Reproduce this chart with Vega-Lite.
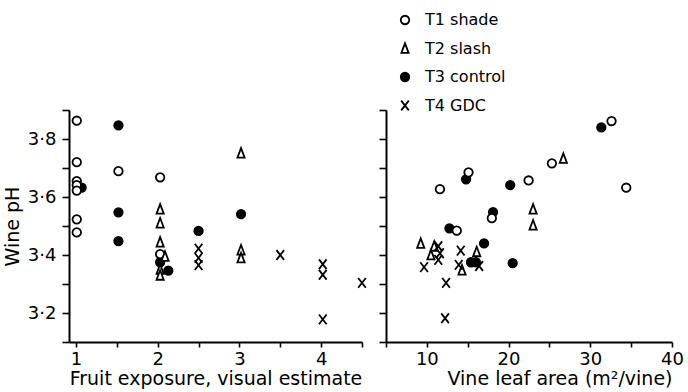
{
  "$schema": "https://vega.github.io/schema/vega-lite/v6.json",
  "autosize": {"type": "none"},
  "padding": {"left": 69, "top": 110, "right": 619, "bottom": 282},
  "bounds": "flush",
  "spacing": 24,
  "config": {
    "view": {"stroke": null},
    "font": "DejaVu Sans",
    "axis": {
      "grid": false,
      "domainColor": "black",
      "domainWidth": 2,
      "tickColor": "black",
      "tickWidth": 1.6,
      "labelColor": "black",
      "titleColor": "black",
      "labelFontSize": 18,
      "titleFontSize": 19,
      "titleFontWeight": "normal",
      "labelFlush": false,
      "labelOverlap": false
    },
    "legend": {
      "labelFontSize": 16,
      "labelColor": "black",
      "symbolStrokeColor": "black",
      "symbolStrokeWidth": 1.8,
      "symbolSize": 72
    }
  },
  "datasets": {
    "exposure": [
      {"x": 1.07, "ph": 3.632, "t": "T3 control"},
      {"x": 1.52, "ph": 3.847, "t": "T3 control"},
      {"x": 1.52, "ph": 3.547, "t": "T3 control"},
      {"x": 1.52, "ph": 3.448, "t": "T3 control"},
      {"x": 2.03, "ph": 3.375, "t": "T3 control"},
      {"x": 2.13, "ph": 3.346, "t": "T3 control"},
      {"x": 2.5, "ph": 3.483, "t": "T3 control"},
      {"x": 3.02, "ph": 3.541, "t": "T3 control"},
      {"x": 1.01, "ph": 3.863, "t": "T1 shade"},
      {"x": 1.01, "ph": 3.72, "t": "T1 shade"},
      {"x": 1.01, "ph": 3.655, "t": "T1 shade"},
      {"x": 1.01, "ph": 3.641, "t": "T1 shade"},
      {"x": 1.01, "ph": 3.622, "t": "T1 shade"},
      {"x": 1.01, "ph": 3.523, "t": "T1 shade"},
      {"x": 1.01, "ph": 3.478, "t": "T1 shade"},
      {"x": 1.52, "ph": 3.689, "t": "T1 shade"},
      {"x": 2.03, "ph": 3.668, "t": "T1 shade"},
      {"x": 2.03, "ph": 3.403, "t": "T1 shade"},
      {"x": 2.03, "ph": 3.558, "t": "T2 slash"},
      {"x": 2.03, "ph": 3.51, "t": "T2 slash"},
      {"x": 2.03, "ph": 3.444, "t": "T2 slash"},
      {"x": 2.09, "ph": 3.395, "t": "T2 slash"},
      {"x": 2.03, "ph": 3.35, "t": "T2 slash"},
      {"x": 2.03, "ph": 3.33, "t": "T2 slash"},
      {"x": 3.02, "ph": 3.751, "t": "T2 slash"},
      {"x": 3.02, "ph": 3.417, "t": "T2 slash"},
      {"x": 3.02, "ph": 3.39, "t": "T2 slash"},
      {"x": 2.5, "ph": 3.422, "t": "T4 GDC"},
      {"x": 2.5, "ph": 3.39, "t": "T4 GDC"},
      {"x": 2.5, "ph": 3.365, "t": "T4 GDC"},
      {"x": 3.5, "ph": 3.4, "t": "T4 GDC"},
      {"x": 4.02, "ph": 3.368, "t": "T4 GDC"},
      {"x": 4.02, "ph": 3.332, "t": "T4 GDC"},
      {"x": 4.02, "ph": 3.178, "t": "T4 GDC"},
      {"x": 4.5, "ph": 3.304, "t": "T4 GDC"}
    ],
    "leaf": [
      {"x": 14.8, "ph": 3.661, "t": "T3 control"},
      {"x": 20.2, "ph": 3.641, "t": "T3 control"},
      {"x": 18.1, "ph": 3.548, "t": "T3 control"},
      {"x": 12.76, "ph": 3.492, "t": "T3 control"},
      {"x": 17.0, "ph": 3.44, "t": "T3 control"},
      {"x": 20.5, "ph": 3.372, "t": "T3 control"},
      {"x": 15.4, "ph": 3.375, "t": "T3 control"},
      {"x": 16.0, "ph": 3.375, "t": "T3 control"},
      {"x": 31.35, "ph": 3.84, "t": "T3 control"},
      {"x": 11.6, "ph": 3.627, "t": "T1 shade"},
      {"x": 15.1, "ph": 3.685, "t": "T1 shade"},
      {"x": 22.45, "ph": 3.657, "t": "T1 shade"},
      {"x": 17.95, "ph": 3.527, "t": "T1 shade"},
      {"x": 13.66, "ph": 3.484, "t": "T1 shade"},
      {"x": 32.6, "ph": 3.862, "t": "T1 shade"},
      {"x": 25.3, "ph": 3.716, "t": "T1 shade"},
      {"x": 34.4, "ph": 3.632, "t": "T1 shade"},
      {"x": 9.25, "ph": 3.44, "t": "T2 slash"},
      {"x": 10.9, "ph": 3.43, "t": "T2 slash"},
      {"x": 10.5, "ph": 3.4, "t": "T2 slash"},
      {"x": 14.3, "ph": 3.348, "t": "T2 slash"},
      {"x": 16.1, "ph": 3.411, "t": "T2 slash"},
      {"x": 23.0, "ph": 3.558, "t": "T2 slash"},
      {"x": 23.0, "ph": 3.503, "t": "T2 slash"},
      {"x": 26.7, "ph": 3.733, "t": "T2 slash"},
      {"x": 11.4, "ph": 3.43, "t": "T4 GDC"},
      {"x": 11.6, "ph": 3.406, "t": "T4 GDC"},
      {"x": 11.4, "ph": 3.383, "t": "T4 GDC"},
      {"x": 9.66, "ph": 3.358, "t": "T4 GDC"},
      {"x": 12.35, "ph": 3.304, "t": "T4 GDC"},
      {"x": 12.23, "ph": 3.182, "t": "T4 GDC"},
      {"x": 14.15, "ph": 3.415, "t": "T4 GDC"},
      {"x": 13.9, "ph": 3.366, "t": "T4 GDC"},
      {"x": 16.4, "ph": 3.362, "t": "T4 GDC"}
    ]
  },
  "resolve": {"scale": {"x": "independent", "y": "independent"}},
  "hconcat": [
    {
      "width": 293,
      "height": 232,
      "data": {"name": "exposure"},
      "mark": {"type": "point", "filled": true, "strokeWidth": 1.8, "size": 72, "opacity": 1},
      "encoding": {
        "x": {
          "field": "x", "type": "quantitative",
          "scale": {"domain": [0.915, 4.5], "nice": false, "zero": false},
          "axis": {
            "title": "Fruit exposure, visual estimate",
            "values": [1, 1.5, 2, 2.5, 3, 3.5, 4, 4.5],
            "labelExpr": "datum.value % 1 == 0 ? format(datum.value, 'd') : ''",
            "tickSize": 5, "labelPadding": 3, "titlePadding": 1
          }
        },
        "y": {
          "field": "ph", "type": "quantitative",
          "scale": {"domain": [3.1, 3.9], "nice": false, "zero": false},
          "axis": {
            "title": "Wine pH",
            "values": [3.1, 3.2, 3.3, 3.4, 3.5, 3.6, 3.7, 3.8, 3.9],
            "labelExpr": "round(datum.value * 10) % 2 == 0 ? replace(format(datum.value, '.1f'), '.', '·') : ''",
            "tickSize": 7, "labelPadding": 6, "titlePadding": 5
          }
        },
        "shape": {
          "field": "t", "type": "nominal",
          "scale": {"domain": ["T1 shade", "T2 slash", "T3 control", "T4 GDC"],
                    "range": ["circle", "M0,-1.2L0.85,1.05L-0.85,1.05Z", "circle", "M-0.9,-1.15L0.9,1.15M0.9,-1.15L-0.9,1.15"]},
          "legend": {"title": null, "orient": "none", "legendX": 328, "legendY": -98, "labelOffset": 12, "rowPadding": 11.5, "padding": 0}
        },
        "fill": {
          "field": "t", "type": "nominal",
          "scale": {"domain": ["T1 shade", "T2 slash", "T3 control", "T4 GDC"],
                    "range": ["white", "white", "black", "white"]},
          "legend": {"title": null, "orient": "none", "legendX": 328, "legendY": -98, "labelOffset": 12, "rowPadding": 11.5, "padding": 0}
        },
        "stroke": {
          "field": "t", "type": "nominal",
          "scale": {"domain": ["T1 shade", "T2 slash", "T3 control", "T4 GDC"],
                    "range": ["black", "black", "black", "black"]},
          "legend": {"title": null, "orient": "none", "legendX": 328, "legendY": -98, "labelOffset": 12, "rowPadding": 11.5, "padding": 0}
        }
      }
    },
    {
      "width": 286,
      "height": 232,
      "data": {"name": "leaf"},
      "mark": {"type": "point", "filled": true, "strokeWidth": 1.8, "size": 72, "opacity": 1},
      "encoding": {
        "x": {
          "field": "x", "type": "quantitative",
          "scale": {"domain": [5, 40], "nice": false, "zero": false},
          "axis": {
            "title": "Vine leaf area (m²/vine)",
            "titleAnchor": "end",
            "values": [5, 10, 15, 20, 25, 30, 35, 40],
            "labelExpr": "datum.value % 10 == 0 ? format(datum.value, 'd') : ''",
            "tickSize": 5, "labelPadding": 3, "titlePadding": 1
          }
        },
        "y": {
          "field": "ph", "type": "quantitative",
          "scale": {"domain": [3.1, 3.9], "nice": false, "zero": false},
          "axis": {
            "title": null,
            "labels": false,
            "values": [3.1, 3.2, 3.3, 3.4, 3.5, 3.6, 3.7, 3.8, 3.9],
            "tickSize": 7
          }
        },
        "shape": {
          "field": "t", "type": "nominal",
          "scale": {"domain": ["T1 shade", "T2 slash", "T3 control", "T4 GDC"],
                    "range": ["circle", "M0,-1.2L0.85,1.05L-0.85,1.05Z", "circle", "M-0.9,-1.15L0.9,1.15M0.9,-1.15L-0.9,1.15"]},
          "legend": {"title": null, "orient": "none", "legendX": 328, "legendY": -98, "labelOffset": 12, "rowPadding": 11.5, "padding": 0}
        },
        "fill": {
          "field": "t", "type": "nominal",
          "scale": {"domain": ["T1 shade", "T2 slash", "T3 control", "T4 GDC"],
                    "range": ["white", "white", "black", "white"]},
          "legend": {"title": null, "orient": "none", "legendX": 328, "legendY": -98, "labelOffset": 12, "rowPadding": 11.5, "padding": 0}
        },
        "stroke": {
          "field": "t", "type": "nominal",
          "scale": {"domain": ["T1 shade", "T2 slash", "T3 control", "T4 GDC"],
                    "range": ["black", "black", "black", "black"]},
          "legend": {"title": null, "orient": "none", "legendX": 328, "legendY": -98, "labelOffset": 12, "rowPadding": 11.5, "padding": 0}
        }
      }
    }
  ]
}
